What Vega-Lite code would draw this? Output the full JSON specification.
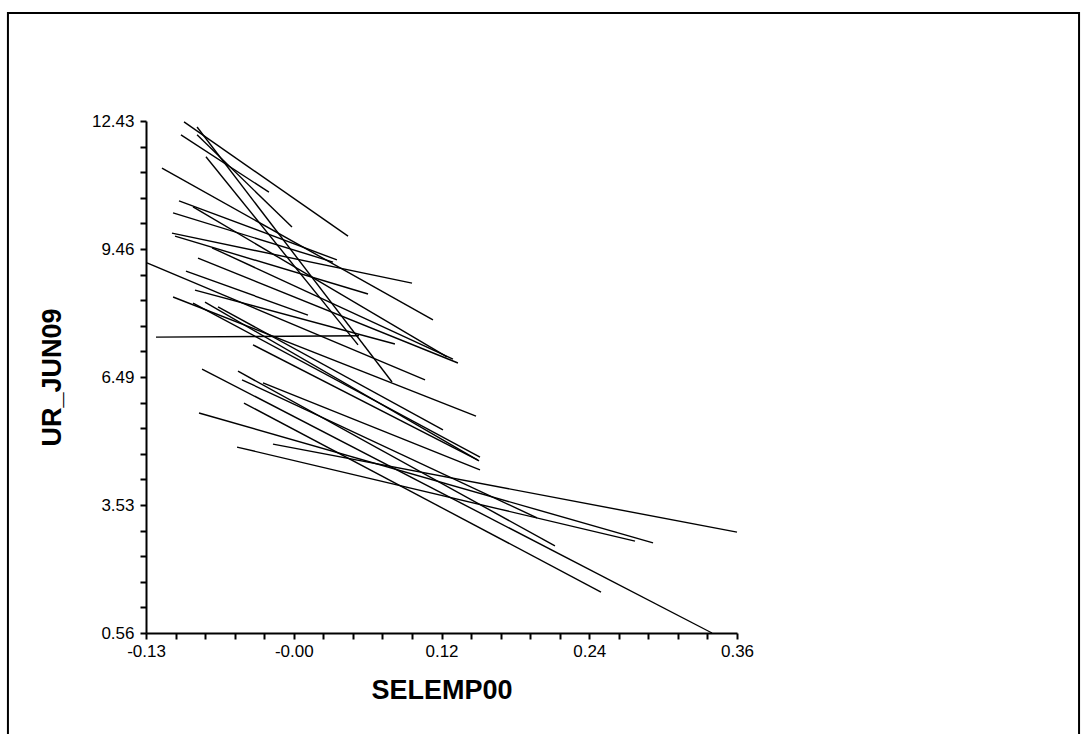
{
  "$schema": "https://vega.github.io/schema/vega-lite/v6.json",
  "autosize": "none",
  "width": 591,
  "height": 512,
  "padding": {"left": 146, "top": 121, "right": 344, "bottom": 101},
  "background": "white",
  "config": {
    "view": {"stroke": null},
    "axis": {"grid": false, "domainColor": "black", "domainWidth": 2, "tickColor": "black", "tickWidth": 2, "tickSize": 6, "tickCount": 40, "labelFont": "Liberation Sans", "labelFontSize": 17, "labelPadding": 4, "labelColor": "black", "titleFont": "Liberation Sans", "titleFontWeight": "bold", "titleFontSize": 27, "titleColor": "black", "labelOverlap": false, "labelFlush": false, "labelBound": false}
  },
  "datasets": {
    "segs": [
      {"x1": -0.0938, "y1": 12.41, "x2": 0.0408, "y2": 9.76},
      {"x1": -0.0831, "y1": 12.29, "x2": 0.0769, "y2": 6.38},
      {"x1": -0.0831, "y1": 12.11, "x2": -0.0052, "y2": 9.97},
      {"x1": -0.0963, "y1": 12.11, "x2": -0.0241, "y2": 10.78},
      {"x1": -0.0758, "y1": 11.60, "x2": 0.0490, "y2": 7.24},
      {"x1": -0.1119, "y1": 11.34, "x2": 0.1105, "y2": 7.82},
      {"x1": -0.0979, "y1": 10.58, "x2": 0.0317, "y2": 9.21},
      {"x1": -0.1028, "y1": 10.30, "x2": 0.0285, "y2": 9.16},
      {"x1": -0.0864, "y1": 10.44, "x2": 0.1220, "y2": 6.96},
      {"x1": -0.1037, "y1": 9.83, "x2": 0.0933, "y2": 8.67},
      {"x1": -0.1012, "y1": 9.76, "x2": 0.0572, "y2": 8.42},
      {"x1": -0.1242, "y1": 9.14, "x2": 0.1040, "y2": 6.43},
      {"x1": -0.0708, "y1": 9.49, "x2": 0.1269, "y2": 6.91},
      {"x1": -0.0823, "y1": 9.25, "x2": 0.1310, "y2": 6.82},
      {"x1": -0.0922, "y1": 8.95, "x2": 0.0079, "y2": 7.93},
      {"x1": -0.0848, "y1": 8.51, "x2": 0.0793, "y2": 7.26},
      {"x1": -0.1028, "y1": 8.35, "x2": 0.1458, "y2": 5.59},
      {"x1": -0.0864, "y1": 8.21, "x2": 0.1491, "y2": 4.64},
      {"x1": -0.0766, "y1": 8.23, "x2": 0.1483, "y2": 4.55},
      {"x1": -0.0659, "y1": 8.12, "x2": 0.1187, "y2": 5.27},
      {"x1": -0.0372, "y1": 7.24, "x2": 0.1474, "y2": 4.57},
      {"x1": -0.1168, "y1": 7.42, "x2": 0.0498, "y2": 7.45},
      {"x1": -0.0790, "y1": 6.68, "x2": 0.3395, "y2": 0.56},
      {"x1": -0.0495, "y1": 6.63, "x2": 0.2106, "y2": 2.58},
      {"x1": -0.0462, "y1": 6.43, "x2": 0.1959, "y2": 3.23},
      {"x1": -0.0290, "y1": 6.36, "x2": 0.1491, "y2": 4.34},
      {"x1": -0.0446, "y1": 5.89, "x2": 0.2484, "y2": 1.51},
      {"x1": -0.0815, "y1": 5.66, "x2": 0.2911, "y2": 2.65},
      {"x1": -0.0503, "y1": 4.87, "x2": 0.2763, "y2": 2.69},
      {"x1": -0.0208, "y1": 4.94, "x2": 0.3600, "y2": 2.90}
    ]
  },
  "layer": [
    {
      "data": {"name": "segs"},
      "mark": {"type": "rule", "color": "black", "strokeWidth": 1.4},
      "encoding": {
        "x": {"field": "x1", "type": "quantitative", "scale": {"domain": [-0.125, 0.36], "nice": false, "zero": false},
          "axis": {"title": "SELEMP00", "titleX": 295.5, "titleY": 57, "titleBaseline": "middle", "titleAlign": "center",
            "values": [-0.125, -0.10075, -0.0765, -0.05225, -0.028, -0.00375, 0.0205, 0.04475, 0.069, 0.09325, 0.1175, 0.14175, 0.166, 0.19025, 0.2145, 0.23875, 0.263, 0.28725, 0.3115, 0.33575, 0.36],
            "labelExpr": "round((datum.value + 0.125) / 0.02425) % 5 == 0 ? ['-0.13', '-0.00', '0.12', '0.24', '0.36'][round((datum.value + 0.125) / 0.02425) / 5] : ''"}},
        "y": {"field": "y1", "type": "quantitative", "scale": {"domain": [0.56, 12.43], "nice": false, "zero": false},
          "axis": {"title": "UR_JUN09", "titleX": -94, "titleY": 256, "titleAngle": -90, "titleBaseline": "middle", "titleAlign": "center", "labelPadding": 6,
            "values": [0.56, 1.1535, 1.747, 2.3405, 2.934, 3.5275, 4.121, 4.7145, 5.308, 5.9015, 6.495, 7.0885, 7.682, 8.2755, 8.869, 9.4625, 10.056, 10.6495, 11.243, 11.8365, 12.43],
            "labelExpr": "round((datum.value - 0.56) / 0.5935) % 5 == 0 ? ['0.56', '3.53', '6.49', '9.46', '12.43'][round((datum.value - 0.56) / 0.5935) / 5] : ''"}},
        "x2": {"field": "x2"},
        "y2": {"field": "y2"}
      }
    },
    {
      "data": {"values": [{}]},
      "mark": {"type": "rect", "fill": null, "stroke": "black", "strokeWidth": 2, "clip": false},
      "encoding": {
        "x": {"datum": -0.2383, "type": "quantitative"},
        "x2": {"datum": 0.6407},
        "y": {"datum": 14.934, "type": "quantitative"},
        "y2": {"datum": -1.921}
      }
    }
  ]
}
